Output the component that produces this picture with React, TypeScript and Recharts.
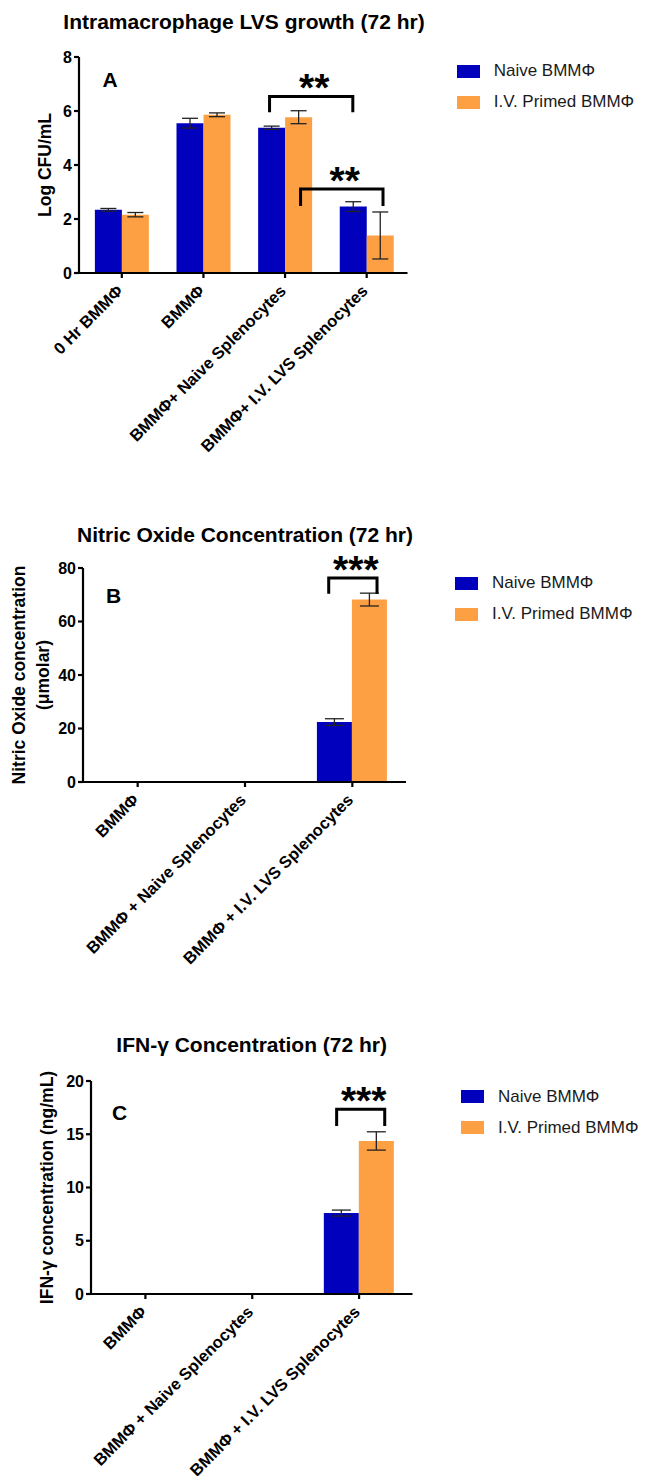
import React from "react";
import {
  BarChart,
  Bar,
  XAxis,
  YAxis,
  ErrorBar,
  ReferenceLine,
  Legend,
} from "recharts";

const FONT = '"Liberation Sans", Arial, Helvetica, sans-serif';
const NAIVE_COLOR = "#0000BD";
const PRIMED_COLOR = "#FDA043";
const seriesNames = ["Naive BMMΦ", "I.V. Primed BMMΦ"];

// panel A - intramacrophage growth (log CFU/mL)
const groupsA = ["0 Hr BMMΦ", "BMMΦ", "BMMΦ+ Naive Splenocytes", "BMMΦ+ I.V. LVS Splenocytes"];
const naiveA = [2.34, 5.55, 5.38, 2.46];
const naiveErrA = [0.05, 0.18, 0.06, 0.18];
const primedA = [2.16, 5.86, 5.77, 1.39];
const primedErrA = [0.08, 0.07, 0.24, 0.87];
const ticksA = [0, 2, 4, 6, 8];
const sigA = [
  { from: 1.81, to: 2.83, leg: 5.95, top: 6.54, mark: "**" },
  { from: 2.19, to: 3.2, leg: 2.48, top: 3.11, mark: "**" },
];

// panel B - nitric oxide (umolar)
const groupsB = ["BMMΦ", "BMMΦ + Naive Splenocytes", "BMMΦ + I.V. LVS Splenocytes"];
const naiveB = [0, 0, 22.4];
const naiveErrB = [null, null, 1.25];
const primedB = [0, 0, 68.2];
const primedErrB = [null, null, 2.4];
const ticksB = [0, 20, 40, 60, 80];
const sigB = [{ from: 1.78, to: 2.23, leg: 70.4, top: 76.3, mark: "***" }];

// panel C - IFN-gamma (ng/mL)
const groupsC = ["BMMΦ", "BMMΦ + Naive Splenocytes", "BMMΦ + I.V. LVS Splenocytes"];
const naiveC = [0, 0, 7.6];
const naiveErrC = [null, null, 0.28];
const primedC = [0, 0, 14.37];
const primedErrC = [null, null, 0.86];
const ticksC = [0, 5, 10, 15, 20];
const sigC = [{ from: 1.79, to: 2.24, leg: 15.77, top: 17.34, mark: "***" }];

const buildRows = (
  groups: string[],
  naive: number[],
  naiveErr: (number | null)[],
  primed: number[],
  primedErr: (number | null)[]
) =>
  groups.map((g, i) => ({
    group: g,
    idx: i,
    naive: naive[i],
    naiveErr: naiveErr[i],
    primed: primed[i],
    primedErr: primedErr[i],
  }));

const axisStyle = { stroke: "#000", strokeWidth: 2.2 };

const SlantTick = (props: any) => {
  const { x, y, payload } = props;
  return (
    <g transform={`translate(${x + 2},${y + 14}) rotate(-45)`}>
      <text
        x={0}
        y={0}
        textAnchor="end"
        fontFamily={FONT}
        fontSize={16.5}
        fontWeight="bold"
        fill="#000"
      >
        {payload.value}
      </text>
    </g>
  );
};

const Bracket = (p: any) => (
  <path
    d={`M${p.x1},${p.y1} V${p.y2} H${p.x2} V${p.y1}`}
    fill="none"
    stroke="#000"
    strokeWidth={3}
  />
);

const starLabel = (mark: string) => (props: any) => {
  const vb = props.viewBox;
  return (
    <text
      x={vb.x + vb.width / 2 + 3}
      y={vb.y + 5}
      textAnchor="middle"
      fontFamily={FONT}
      fontSize={39}
      fontWeight="bold"
      fill="#000"
    >
      {mark}
    </text>
  );
};

const yTitle = (lines: { text: string; x: number }[]) => (props: any) => {
  const vb = props.viewBox;
  const cy = vb.y + vb.height / 2;
  return (
    <g>
      {lines.map((l) => (
        <text
          key={l.text}
          x={l.x}
          y={cy}
          transform={`rotate(-90, ${l.x}, ${cy})`}
          textAnchor="middle"
          fontFamily={FONT}
          fontSize={17.5}
          fontWeight="bold"
          fill="#000"
        >
          {l.text}
        </text>
      ))}
    </g>
  );
};

const LegendList = (props: any) => {
  const items = [...(props.payload || [])].sort(
    (a: any, b: any) => seriesNames.indexOf(a.value) - seriesNames.indexOf(b.value)
  );
  return (
    <div style={{ fontFamily: FONT, fontSize: 17, color: "#1a1a1a" }}>
      {items.map((e: any) => (
        <div key={e.value} style={{ display: "flex", alignItems: "center", height: 31 }}>
          <span
            style={{ display: "inline-block", width: 23, height: 13, background: e.color, marginRight: 14 }}
          />
          <span style={{ whiteSpace: "nowrap" }}>{e.value}</span>
        </div>
      ))}
    </div>
  );
};

const panels = [
  {
    key: "A",
    rows: buildRows(groupsA, naiveA, naiveErrA, primedA, primedErrA),
    ticks: ticksA,
    sig: sigA,
    yLines: [{ text: "Log CFU/mL", x: 51 }],
    top: 0, height: 490, mTop: 57, mRight: 239.5, yWidth: 79, pad: 2, xHeight: 217, cap: 8,
    legendLeft: 456.7, legendTop: 55.7,
  },
  {
    key: "B",
    rows: buildRows(groupsB, naiveB, naiveErrB, primedB, primedErrB),
    ticks: ticksB,
    sig: sigB,
    yLines: [
      { text: "Nitric Oxide concentration", x: 25 },
      { text: "(μmolar)", x: 49 },
    ],
    top: 510, height: 490, mTop: 58, mRight: 241, yWidth: 83, pad: 1, xHeight: 218, cap: 9.5,
    legendLeft: 455, legendTop: 57.7,
  },
  {
    key: "C",
    rows: buildRows(groupsC, naiveC, naiveErrC, primedC, primedErrC),
    ticks: ticksC,
    sig: sigC,
    yLines: [{ text: "IFN-γ concentration (ng/mL)", x: 53 }],
    top: 1020, height: 456, mTop: 61, mRight: 234.5, yWidth: 91, pad: 1, xHeight: 182, cap: 9.5,
    legendLeft: 461, legendTop: 61,
  },
];

const titles = [
  { text: "Intramacrophage LVS growth (72 hr)", x: 244, y: 29.3 },
  { text: "Nitric Oxide Concentration (72 hr)", x: 245, y: 541.7 },
  { text: "IFN-γ Concentration (72 hr)", x: 251.7, y: 1052.3 },
];
const letters = [
  { text: "A", x: 102.5, y: 87.3 },
  { text: "B", x: 106, y: 603.3 },
  { text: "C", x: 112, y: 1119.5 },
];

const Panel = ({ cfg }: { cfg: (typeof panels)[number] }) => {
  const yMax = cfg.ticks[cfg.ticks.length - 1];
  return (
    <div style={{ position: "absolute", left: 0, top: cfg.top, width: 647, height: cfg.height }}>
      <BarChart
        width={647}
        height={cfg.height}
        data={cfg.rows}
        margin={{ top: cfg.mTop, right: cfg.mRight, left: 0, bottom: 0 }}
        barCategoryGap="17%"
        barGap={0}
      >
        <XAxis
          dataKey="group"
          interval={0}
          height={cfg.xHeight}
          padding={{ left: cfg.pad, right: 0 }}
          tickSize={5}
          tickMargin={0}
          axisLine={axisStyle}
          tickLine={axisStyle}
          tick={<SlantTick />}
        />
        {/* numeric twin of the category axis, used to place the significance brackets */}
        <XAxis
          xAxisId="pos"
          dataKey="idx"
          type="number"
          domain={[-0.5, cfg.rows.length - 0.5]}
          allowDataOverflow
          padding={{ left: cfg.pad, right: 0 }}
          hide
        />
        <YAxis
          width={cfg.yWidth}
          domain={[0, yMax]}
          ticks={cfg.ticks}
          interval={0}
          tickSize={5}
          tickMargin={2}
          axisLine={axisStyle}
          tickLine={axisStyle}
          tick={{ fill: "#000", fontSize: 16, fontWeight: "bold", fontFamily: FONT }}
          label={{ content: yTitle(cfg.yLines) }}
        />
        <Legend
          layout="vertical"
          align="center"
          verticalAlign="middle"
          content={<LegendList />}
          wrapperStyle={{ left: cfg.legendLeft, top: cfg.legendTop, width: 190 }}
        />
        <Bar dataKey="naive" name={seriesNames[0]} fill={NAIVE_COLOR} isAnimationActive={false}>
          <ErrorBar dataKey="naiveErr" width={cfg.cap} stroke="#222" strokeWidth={1.3} />
        </Bar>
        <Bar dataKey="primed" name={seriesNames[1]} fill={PRIMED_COLOR} isAnimationActive={false}>
          <ErrorBar dataKey="primedErr" width={cfg.cap} stroke="#222" strokeWidth={1.3} />
        </Bar>
        {cfg.sig.map((s) => (
          <ReferenceLine
            key={`${s.from}-${s.to}`}
            xAxisId="pos"
            ifOverflow="visible"
            segment={[
              { x: s.from, y: s.leg },
              { x: s.to, y: s.top },
            ]}
            shape={Bracket}
            label={{ content: starLabel(s.mark) }}
          />
        ))}
      </BarChart>
    </div>
  );
};

export default function App() {
  return (
    <div
      style={{
        position: "absolute",
        left: 0,
        top: 0,
        width: 647,
        height: 1476,
        background: "#fff",
        overflow: "hidden",
      }}
    >
      {panels.map((p) => (
        <Panel key={p.key} cfg={p} />
      ))}
      <svg
        width={647}
        height={1476}
        style={{ position: "absolute", left: 0, top: 0, pointerEvents: "none" }}
      >
        {titles.map((t) => (
          <text
            key={t.text}
            x={t.x}
            y={t.y}
            textAnchor="middle"
            fontFamily={FONT}
            fontSize={21}
            fontWeight="bold"
            fill="#000"
          >
            {t.text}
          </text>
        ))}
        {letters.map((l) => (
          <text key={l.text} x={l.x} y={l.y} fontFamily={FONT} fontSize={21} fontWeight="bold" fill="#000">
            {l.text}
          </text>
        ))}
      </svg>
    </div>
  );
}
